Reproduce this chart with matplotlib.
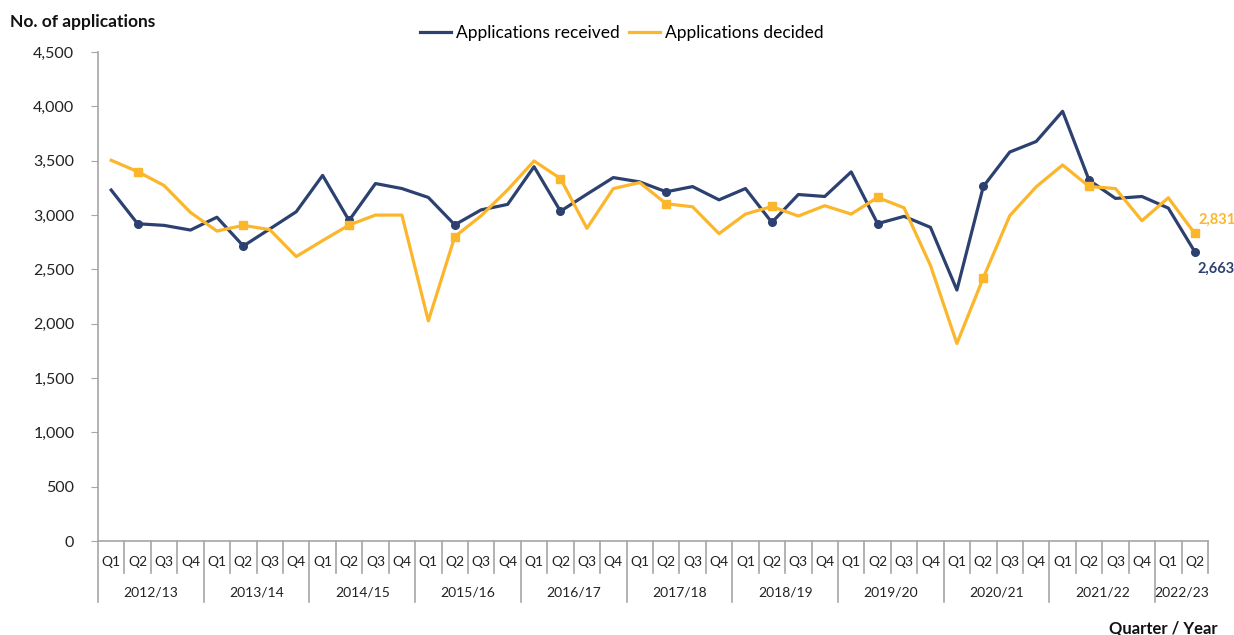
import numpy as np
import matplotlib
matplotlib.use("Agg")
import matplotlib.pyplot as plt
import matplotlib.transforms as mtransforms
from matplotlib.lines import Line2D

plt.rcParams['font.family'] = ['Lato', 'DejaVu Sans']

years = ["2012/13", "2013/14", "2014/15", "2015/16", "2016/17", "2017/18",
         "2018/19", "2019/20", "2020/21", "2021/22", "2022/23"]
quarters = ["Q1", "Q2", "Q3", "Q4"] * 10 + ["Q1", "Q2"]

received = [3230, 2920, 2905, 2862, 2980, 2715, 2872, 3030,
            3365, 2950, 3290, 3244, 3162, 2910, 3048, 3098,
            3445, 3035, 3192, 3345, 3305, 3214, 3262, 3140,
            3244, 2932, 3189, 3171, 3397, 2921, 2988, 2887,
            2310, 3263, 3580, 3677, 3955, 3322, 3153, 3171,
            3064, 2663]
decided = [3504, 3400, 3272, 3024, 2853, 2905, 2866, 2618,
           2765, 2908, 3000, 3000, 2026, 2801, 2994, 3232,
           3498, 3336, 2878, 3244, 3299, 3104, 3076, 2829,
           3009, 3079, 2991, 3086, 3009, 3162, 3067, 2536,
           1818, 2423, 2994, 3260, 3461, 3263, 3244, 2948,
           3159, 2831]

navy = '#2C4170'
gold = '#FBB62C'
grey = '#A6A6A6'

fig = plt.figure(figsize=(12.34, 6.35), dpi=100)
ax = fig.add_axes([0.0794, 0.148, 0.8995, 0.770])

x = np.arange(len(received))
# markers only on Q2 of each year
q2 = list(range(1, len(x), 4))
ax.plot(x, received, color=navy, lw=2.3, marker='o', ms=5.5, markevery=q2)
ax.plot(x, decided, color=gold, lw=2.3, marker='s', ms=5.5, markevery=q2)

ax.set_xlim(-0.5, len(x) - 0.5)
ax.set_ylim(0, 4500)
ax.set_yticks(np.arange(0, 4501, 500))
ax.set_yticklabels([f"{v:,}" for v in range(0, 4501, 500)], fontsize=11.5, color='#222222')
ax.tick_params(axis='y', direction='out', length=5, color=grey, pad=12)

for s in ['top', 'right']:
    ax.spines[s].set_visible(False)
ax.spines['left'].set_color(grey)
ax.spines['bottom'].set_color(grey)
ax.spines['left'].set_linewidth(1.2)
ax.spines['bottom'].set_linewidth(1.2)

# quarter labels + category separators
ax.set_xticks(x)
ax.set_xticklabels(quarters, fontsize=10, color='#222222')
ax.tick_params(axis='x', length=0, pad=11)

trans = mtransforms.blended_transform_factory(ax.transData, ax.transAxes)
q_depth = -(573 - 541) / 489
y_depth = -(602 - 541) / 489
for b in np.arange(-0.5, len(x), 1.0):
    if b == -0.5 or (b + 0.5) % 4 == 0 and b < len(x) - 1:
        ax.plot([b, b], [0, y_depth], color=grey, lw=1.2, transform=trans, clip_on=False)
    else:
        ax.plot([b, b], [0, q_depth], color=grey, lw=1.2, transform=trans, clip_on=False)

for k, yr in enumerate(years):
    lo = k * 4 - 0.5
    hi = min(k * 4 + 3.5, len(x) - 0.5)
    ax.text((lo + hi) / 2, -(592 - 541) / 489, yr, transform=trans,
            ha='center', va='center', fontsize=10, color='#222222')

# end labels
ax.annotate(f"{decided[-1]:,}", (x[-1], decided[-1]), xytext=(3, 10),
            textcoords='offset points', color=gold, fontsize=10.5,
            fontweight='bold', ha='left', va='center')
ax.annotate(f"{received[-1]:,}", (x[-1], received[-1]), xytext=(2, -12),
            textcoords='offset points', color=navy, fontsize=10.5,
            fontweight='bold', ha='left', va='center')

fig.text(10 / 1234, 1 - 22 / 635, "No. of applications", fontsize=12.5,
         fontweight='bold', ha='left', va='center', color='#111111')
fig.text(1218 / 1234, 1 - 628 / 635, "Quarter / Year", fontsize=12,
         fontweight='bold', ha='right', va='center', color='#111111')

handles = [Line2D([], [], color=navy, lw=2.3), Line2D([], [], color=gold, lw=2.3)]
fig.legend(handles, ['Applications received', 'Applications decided'],
           loc='center', bbox_to_anchor=(622 / 1234, 1 - 33 / 635), ncol=2,
           frameon=False, fontsize=12.5, handlelength=1.8, columnspacing=0.5,
           handletextpad=0.3)

fig.savefig('out.png', dpi=100)
